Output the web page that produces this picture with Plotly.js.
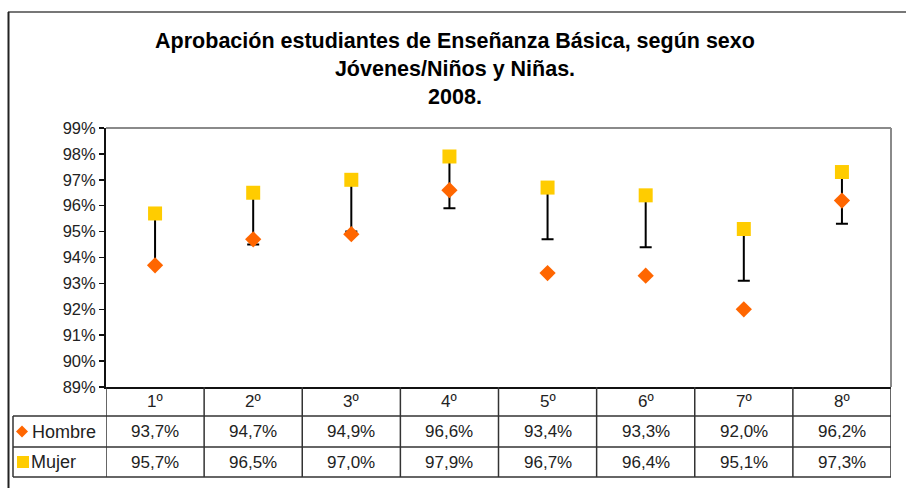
<!DOCTYPE html>
<html>
<head>
<meta charset="utf-8">
<script src="https://cdn.plot.ly/plotly-3.0.1.min.js"></script>
<style>html,body{margin:0;padding:0;background:#fff}#chart{width:906px;height:488px}</style>
</head>
<body>
<div id="chart"></div>
<script>
// ---- data ----
const categories = ['1º','2º','3º','4º','5º','6º','7º','8º'];
const hombre = [93.7, 94.7, 94.9, 96.6, 93.4, 93.3, 92.0, 96.2];
const mujer  = [95.7, 96.5, 97.0, 97.9, 96.7, 96.4, 95.1, 97.3];
const mujerErrMinus = [2.0, 2.0, 2.0, 2.0, 2.0, 2.0, 2.0, 2.0];
const yTickVals = [89, 90, 91, 92, 93, 94, 95, 96, 97, 98, 99];
const seriesNames = ['Hombre', 'Mujer'];

// ---- layout helpers ----
const W = 906, H = 488;
const M = {l: 106, r: 15, t: 128, b: 101};
const PW = W - M.l - M.r, PH = H - M.t - M.b;
const px2x = px => (px - M.l) / PW;
const py2y = py => (H - M.b - py) / PH;

const FONT = 'Liberation Sans, Arial, sans-serif';
const ORANGE = '#FF6600', GOLD = '#FFCC00';
const fmt = v => v.toFixed(1).replace('.', ',') + '%';

const traces = [
  {
    type: 'scatter', mode: 'markers', name: seriesNames[1],
    x: categories, y: mujer,
    marker: {symbol: 'square', size: 14, color: GOLD},
    error_y: {type: 'data', symmetric: false, array: mujerErrMinus.map(() => 0),
              arrayminus: mujerErrMinus, color: '#000', thickness: 2, width: 6},
    hoverinfo: 'skip'
  },
  {
    type: 'scatter', mode: 'markers', name: seriesNames[0],
    x: categories, y: hombre,
    marker: {symbol: 'diamond', size: 12.5, color: ORANGE},
    hoverinfo: 'skip'
  }
];

// table geometry (pixels)
const rowHeader = [387, 416], rowH = [416, 447], rowM = [447, 477];
const tableLeft = 13;
const lineCol = '#333';

const shapes = [];
// outer chart frame
shapes.push({type: 'line', xref: 'paper', yref: 'paper', x0: px2x(8), x1: px2x(906), y0: py2y(12), y1: py2y(12), line: {color: '#777', width: 2}});
shapes.push({type: 'line', xref: 'paper', yref: 'paper', x0: px2x(8.5), x1: px2x(8.5), y0: py2y(12), y1: py2y(488), line: {color: '#222', width: 2}});
// plot area top and right border
shapes.push({type: 'line', xref: 'paper', yref: 'paper', x0: 0, x1: 1, y0: 1, y1: 1, line: {color: '#8a8a8a', width: 2}});
shapes.push({type: 'line', xref: 'paper', yref: 'paper', x0: 1, x1: 1, y0: 0, y1: 1, line: {color: '#8a8a8a', width: 2}});
// vertical table lines at category boundaries
for (let i = 0; i <= categories.length; i++) {
  shapes.push({type: 'line', xref: 'x', yref: 'paper', x0: i - 0.5, x1: i - 0.5,
               y0: py2y(rowHeader[0]), y1: py2y(rowM[1]), line: {color: lineCol, width: 1.5}});
}
// left edge of label column
shapes.push({type: 'line', xref: 'paper', yref: 'paper', x0: px2x(tableLeft), x1: px2x(tableLeft),
             y0: py2y(rowH[0]), y1: py2y(rowM[1]), line: {color: lineCol, width: 1.5}});
// horizontal table lines
[rowH[0], rowM[0], rowM[1]].forEach(py => {
  shapes.push({type: 'line', xref: 'paper', yref: 'paper', x0: px2x(tableLeft), x1: 1,
               y0: py2y(py), y1: py2y(py), line: {color: lineCol, width: 1.5}});
});
// legend keys in the table's label column
const hy = (rowH[0] + rowH[1]) / 2, my = (rowM[0] + rowM[1]) / 2;
const dx = 22, dr = 6;
shapes.push({type: 'path', xref: 'paper', yref: 'paper', fillcolor: ORANGE, line: {width: 0},
  path: 'M' + px2x(dx) + ',' + py2y(hy - dr) + ' L' + px2x(dx + dr) + ',' + py2y(hy) +
        ' L' + px2x(dx) + ',' + py2y(hy + dr) + ' L' + px2x(dx - dr) + ',' + py2y(hy) + ' Z'});
shapes.push({type: 'rect', xref: 'paper', yref: 'paper', fillcolor: GOLD, line: {width: 0},
  x0: px2x(17), x1: px2x(29), y0: py2y(my - 6), y1: py2y(my + 6)});

const annotations = [];
const cellFont = {family: FONT, size: 17, color: '#222'};
categories.forEach((c, i) => {
  annotations.push({xref: 'x', yref: 'paper', x: i, y: py2y((rowHeader[0] + rowHeader[1]) / 2),
                    text: c, showarrow: false, font: cellFont, xanchor: 'center', yanchor: 'middle'});
  annotations.push({xref: 'x', yref: 'paper', x: i, y: py2y(hy),
                    text: fmt(hombre[i]), showarrow: false, font: cellFont, xanchor: 'center', yanchor: 'middle'});
  annotations.push({xref: 'x', yref: 'paper', x: i, y: py2y(my),
                    text: fmt(mujer[i]), showarrow: false, font: cellFont, xanchor: 'center', yanchor: 'middle'});
});
// row labels
annotations.push({xref: 'paper', yref: 'paper', x: px2x(30), y: py2y(hy), text: seriesNames[0],
                  showarrow: false, font: {family: FONT, size: 18, color: '#222'}, xanchor: 'left', yanchor: 'middle'});
annotations.push({xref: 'paper', yref: 'paper', x: px2x(29), y: py2y(my), text: seriesNames[1],
                  showarrow: false, font: {family: FONT, size: 18, color: '#222'}, xanchor: 'left', yanchor: 'middle'});

const layout = {
  width: W, height: H,
  margin: M,
  paper_bgcolor: '#fff', plot_bgcolor: '#fff',
  showlegend: false,
  title: {
    text: '<b>Aprobación estudiantes de Enseñanza Básica, según sexo<br>Jóvenes/Niños y Niñas.<br>2008.</b>',
    font: {family: FONT, size: 21.5, color: '#000'},
    x: 455 / W, xref: 'container', xanchor: 'center',
    y: 1 - 48 / H, yref: 'container', yanchor: 'top'
  },
  xaxis: {
    type: 'category', range: [-0.5, categories.length - 0.5],
    showticklabels: false, ticks: '', showgrid: false, zeroline: false,
    showline: true, linecolor: '#111', linewidth: 2, fixedrange: true
  },
  yaxis: {
    range: [89, 99], tickvals: yTickVals, ticktext: yTickVals.map(v => v + '%'),
    ticks: 'outside', ticklen: 5, tickcolor: '#111', tickwidth: 1.5,
    tickfont: {family: FONT, size: 16.5, color: '#222'},
    showgrid: false, zeroline: false,
    showline: true, linecolor: '#111', linewidth: 2, fixedrange: true
  },
  shapes: shapes,
  annotations: annotations
};

Plotly.newPlot('chart', traces, layout, {displayModeBar: false, staticPlot: true});
</script>
</body>
</html>
